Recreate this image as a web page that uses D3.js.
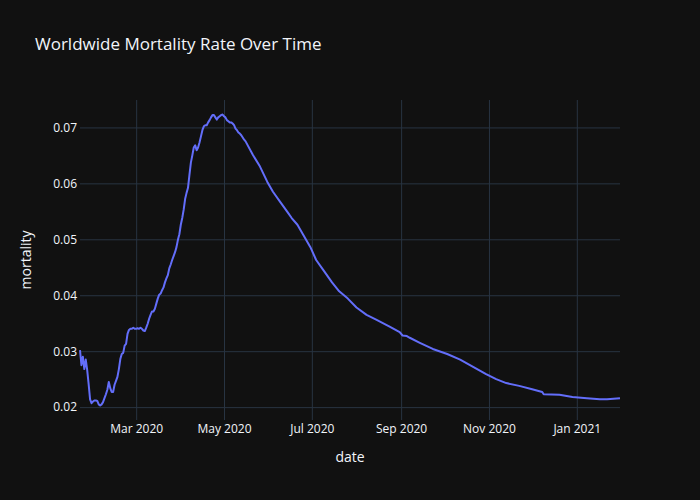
<!DOCTYPE html>
<html>
<head>
<meta charset="utf-8">
<script src="https://cdn.jsdelivr.net/npm/d3@7"></script>
<style>
  body { margin: 0; background: #111111; }
  text { font-family: 'Open Sans', sans-serif; }
</style>
</head>
<body>
<svg width="700" height="500"></svg>
<script>
// dates (daily in the noisy early part, sparser later)
var dates = [
  '2020-01-22', '2020-01-23', '2020-01-24', '2020-01-25', '2020-01-26', '2020-01-27', '2020-01-28', '2020-01-29', '2020-01-30', '2020-01-31',
  '2020-02-01', '2020-02-02', '2020-02-03', '2020-02-04', '2020-02-05', '2020-02-06', '2020-02-07', '2020-02-08', '2020-02-09', '2020-02-10',
  '2020-02-11', '2020-02-12', '2020-02-13', '2020-02-14', '2020-02-15', '2020-02-16', '2020-02-17', '2020-02-18', '2020-02-19', '2020-02-20',
  '2020-02-21', '2020-02-22', '2020-02-23', '2020-02-24', '2020-02-25', '2020-02-26', '2020-02-27', '2020-02-28', '2020-02-29',
  '2020-03-01', '2020-03-02', '2020-03-03', '2020-03-04', '2020-03-05', '2020-03-06', '2020-03-07', '2020-03-08', '2020-03-09', '2020-03-10',
  '2020-03-11', '2020-03-12', '2020-03-13', '2020-03-14', '2020-03-15', '2020-03-16', '2020-03-17', '2020-03-18', '2020-03-19', '2020-03-20',
  '2020-03-21', '2020-03-22', '2020-03-23', '2020-03-24', '2020-03-25', '2020-03-26', '2020-03-27', '2020-03-28', '2020-03-29', '2020-03-30', '2020-03-31',
  '2020-04-01', '2020-04-02', '2020-04-03', '2020-04-04', '2020-04-05', '2020-04-06', '2020-04-07', '2020-04-08', '2020-04-09', '2020-04-10',
  '2020-04-11', '2020-04-12', '2020-04-13', '2020-04-14', '2020-04-15', '2020-04-16', '2020-04-17', '2020-04-18', '2020-04-19', '2020-04-20',
  '2020-04-21', '2020-04-22', '2020-04-23', '2020-04-24', '2020-04-25', '2020-04-26', '2020-04-27', '2020-04-28', '2020-04-29', '2020-04-30',
  '2020-05-01', '2020-05-02', '2020-05-03', '2020-05-04', '2020-05-05', '2020-05-06', '2020-05-07', '2020-05-08', '2020-05-09', '2020-05-10',
  '2020-05-11', '2020-05-12', '2020-05-13', '2020-05-14', '2020-05-15', '2020-05-16',
  '2020-05-21', '2020-05-26', '2020-05-31', '2020-06-04', '2020-06-09', '2020-06-14', '2020-06-17', '2020-06-21', '2020-06-25', '2020-06-30',
  '2020-07-04', '2020-07-09', '2020-07-15', '2020-07-20', '2020-07-26', '2020-08-01', '2020-08-08', '2020-08-15', '2020-08-24', '2020-08-31',
  '2020-09-02', '2020-09-05', '2020-09-07', '2020-09-14', '2020-09-23', '2020-10-03', '2020-10-12', '2020-10-21', '2020-10-30',
  '2020-11-06', '2020-11-13', '2020-11-22', '2020-12-01', '2020-12-08', '2020-12-09', '2020-12-20', '2020-12-29',
  '2021-01-08', '2021-01-17', '2021-01-22', '2021-01-31'
]

var mortality = [
  0.0302, 0.0275, 0.0290, 0.0268, 0.0285, 0.0266, 0.0241, 0.0214, 0.0207, 0.0210,
  0.0212, 0.0212, 0.0211, 0.0205, 0.0203, 0.0205, 0.0209, 0.0216, 0.0223, 0.0231,
  0.0245, 0.0234, 0.0227, 0.0227, 0.0240, 0.0247, 0.0254, 0.0268, 0.0286, 0.0295,
  0.0297, 0.0310, 0.0313, 0.0331, 0.0338, 0.0340, 0.0340, 0.0342, 0.0340,
  0.0340, 0.0341, 0.0340, 0.0342, 0.0340, 0.0337, 0.0336, 0.0342, 0.0349, 0.0358,
  0.0365, 0.0371, 0.0371, 0.0376, 0.0385, 0.0394, 0.0401, 0.0403, 0.0409, 0.0414,
  0.0423, 0.0430, 0.0436, 0.0448, 0.0455, 0.0463, 0.0470, 0.0477, 0.0486, 0.0499, 0.0509,
  0.0526, 0.0538, 0.0553, 0.0572, 0.0583, 0.0592, 0.0615, 0.0637, 0.0650, 0.0664,
  0.0668, 0.0659, 0.0664, 0.0673, 0.0684, 0.0695, 0.0702, 0.0704, 0.0704, 0.0709,
  0.0713, 0.0718, 0.0722, 0.0722, 0.0718, 0.0714, 0.0718, 0.0720, 0.0722, 0.0723,
  0.0720, 0.0718, 0.0713, 0.0711, 0.0709, 0.0709, 0.0707, 0.0704, 0.0698, 0.0695,
  0.0691, 0.0689, 0.0686, 0.0682, 0.0678, 0.0675,
  0.0651, 0.0630, 0.0603, 0.0585, 0.0567, 0.0549, 0.0538, 0.0526, 0.0508, 0.0486,
  0.0463, 0.0445, 0.0423, 0.0407, 0.0394, 0.0378, 0.0365, 0.0356, 0.0344, 0.0334,
  0.0328, 0.0327, 0.0324, 0.0315, 0.0304, 0.0295, 0.0285, 0.0272, 0.0259,
  0.0250, 0.0243, 0.0238, 0.0232, 0.0227, 0.0223, 0.0222, 0.0218,
  0.0216, 0.0214, 0.0214, 0.0216
]

var xTicks = ['2020-03-01', '2020-05-01', '2020-07-01', '2020-09-01', '2020-11-01', '2021-01-01']
var yTicks = [0.02, 0.03, 0.04, 0.05, 0.06, 0.07]

var svg = d3.select('svg')
var width = +svg.attr('width')
var height = +svg.attr('height')
var margin = {top: 100, right: 80, bottom: 80, left: 80}
var parse = d3.timeParse('%Y-%m-%d')

var data = dates.map(function (d, i) { return {date: parse(d), value: mortality[i]} })

svg.append('rect').attr('width', width).attr('height', height).attr('fill', '#111111')

var x = d3.scaleTime()
  .domain(d3.extent(data, function (d) { return d.date }))
  .range([margin.left, width - margin.right])

// plotly-style autorange: 5% padding each side
var yMin = d3.min(mortality)
var yMax = d3.max(mortality)
var pad = (yMax - yMin) * 0.05
var y = d3.scaleLinear()
  .domain([yMin - pad, yMax + pad])
  .range([height - margin.bottom, margin.top])

// grid
svg.append('g')
  .attr('transform', 'translate(0,' + (height - margin.bottom) + ')')
  .call(d3.axisBottom(x).tickValues(xTicks.map(parse)).tickSize(-(height - margin.top - margin.bottom)).tickFormat(d3.timeFormat('%b %Y')).tickPadding(4))
  .call(function (g) {
    g.select('.domain').remove()
    g.selectAll('line').attr('stroke', '#283442')
    g.selectAll('text').attr('fill', '#f2f5fa').attr('font-size', 12).attr('font-family', "'Open Sans', sans-serif")
  })

svg.append('g')
  .attr('transform', 'translate(' + margin.left + ',0)')
  .call(d3.axisLeft(y).tickValues(yTicks).tickSize(-(width - margin.left - margin.right)).tickFormat(d3.format('.2f')).tickPadding(3))
  .call(function (g) {
    g.select('.domain').remove()
    g.selectAll('line').attr('stroke', '#283442')
    g.selectAll('text').attr('fill', '#f2f5fa').attr('font-size', 12).attr('font-family', "'Open Sans', sans-serif")
  })

var line = d3.line()
  .x(function (d) { return x(d.date) })
  .y(function (d) { return y(d.value) })

svg.append('path')
  .datum(data)
  .attr('fill', 'none')
  .attr('stroke', '#636efa')
  .attr('stroke-width', 2)
  .attr('stroke-linejoin', 'round')
  .attr('d', line)

// titles
svg.append('text')
  .attr('x', 35).attr('y', 50)
  .attr('fill', '#f2f5fa').attr('font-size', 17)
  .text('Worldwide Mortality Rate Over Time')

svg.append('text')
  .attr('x', (margin.left + width - margin.right) / 2).attr('y', 462)
  .attr('text-anchor', 'middle')
  .attr('fill', '#f2f5fa').attr('font-size', 14)
  .text('date')

svg.append('text')
  .attr('transform', 'translate(31,' + ((margin.top + height - margin.bottom) / 2) + ') rotate(-90)')
  .attr('text-anchor', 'middle')
  .attr('fill', '#f2f5fa').attr('font-size', 14)
  .text('mortality')
</script>
</body>
</html>
